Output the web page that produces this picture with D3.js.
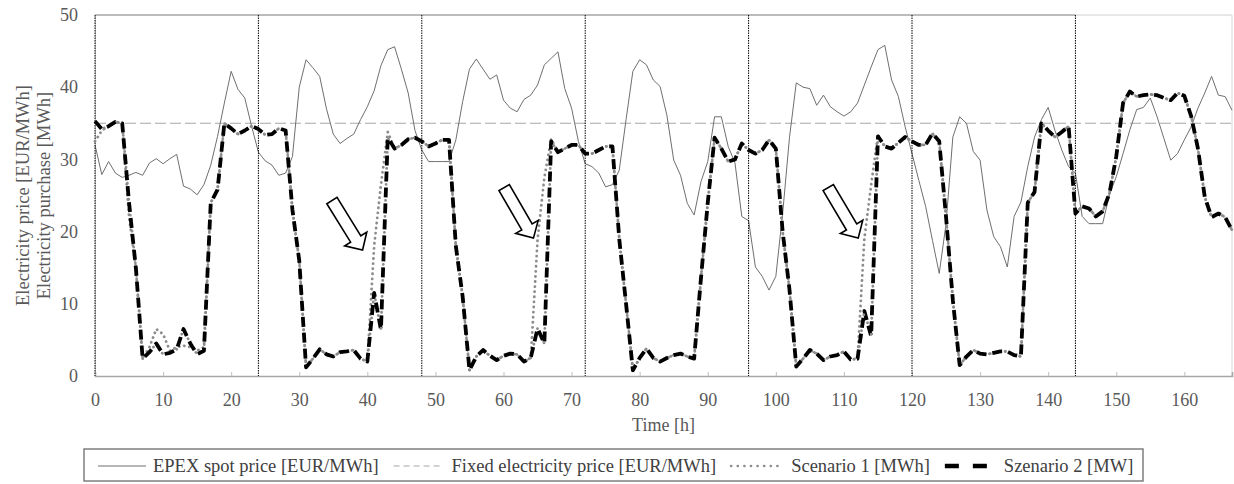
<!DOCTYPE html>
<html><head><meta charset="utf-8">
<script src="https://cdn.jsdelivr.net/npm/d3@7"></script>
<style>
body{margin:0;background:#fff}
svg{display:block}
text{font-family:"Liberation Serif","Times New Roman",serif}
</style>
</head><body>
<svg id="chart" width="1234" height="484"></svg>
<script>
// ---------- data ----------
const hours = d3.range(168);
const epexPrice = [
 32.0,27.9,29.7,28.1,27.5,27.8,28.2,27.8,29.5,30.1,29.4,30.1,30.7,26.3,25.9,25.1,26.5,29.2,33.2,37.8,42.2,39.7,38.5,34.6,
 31.0,29.8,29.2,27.8,28.1,30.4,40.0,43.8,42.7,41.5,37.0,33.5,32.2,32.9,33.5,35.5,37.3,39.5,43.0,45.2,45.6,42.5,39.2,34.0,
 31.3,29.7,29.7,29.7,29.7,32.7,38.0,42.5,43.9,42.5,41.1,41.7,38.2,37.1,36.6,38.3,38.9,40.3,43.1,44.0,44.9,39.8,37.1,32.5,
 29.4,29.0,28.1,26.2,26.5,28.5,35.5,42.2,43.8,43.1,41.0,40.1,36.1,29.9,27.8,23.9,22.3,26.9,29.7,35.9,35.9,31.8,29.5,22.1,
 21.5,15.1,13.8,11.9,13.8,22.5,33.0,40.6,40.0,39.8,37.5,38.9,37.3,36.6,36.0,36.6,37.8,40.3,42.8,45.2,45.8,41.0,38.7,34.5,
 30.8,27.1,23.5,18.8,14.2,21.1,33.1,35.9,35.0,31.1,29.9,23.0,19.3,17.9,15.1,22.1,24.1,29.0,33.1,35.5,37.2,34.0,31.3,29.0,
 28.1,22.1,21.1,21.1,21.1,25.1,27.6,30.8,34.1,36.9,37.2,38.5,35.9,32.9,29.9,30.8,32.7,34.5,37.1,39.2,41.5,38.9,38.7,36.8
];
const fixedPrice = 35;
const scenario1 = [
 32.5,34.0,34.6,35.2,35.0,22.0,15.0,2.4,4.0,6.5,5.8,3.5,4.0,4.2,4.0,3.5,4.0,24.0,25.8,35.0,34.3,33.5,34.0,34.6,
 34.2,33.4,33.5,34.3,34.0,23.0,16.0,1.2,2.4,3.7,3.0,2.7,3.3,3.4,3.6,2.4,2.0,18.0,26.5,33.8,31.5,32.0,32.8,33.0,
 32.5,31.8,32.2,32.7,32.7,18.0,11.0,0.8,2.7,3.6,2.8,2.2,2.8,3.1,3.0,2.0,2.4,18.8,27.5,32.8,31.0,31.5,32.0,32.0,
 30.8,30.8,31.3,31.8,31.8,19.0,10.0,0.8,2.5,3.8,2.5,2.0,2.5,2.9,3.1,2.7,2.4,13.5,24.0,33.0,31.5,29.7,30.0,32.2,
 31.3,30.8,31.3,32.7,31.5,20.0,12.0,1.3,2.4,3.6,3.1,2.2,2.7,2.9,3.4,2.3,2.4,19.0,26.5,33.4,31.8,31.5,32.3,33.1,
 32.5,32.0,32.0,33.6,32.5,22.0,10.5,1.5,2.7,3.6,3.1,3.0,3.2,3.4,3.4,2.9,2.7,24.0,25.5,35.0,34.0,33.1,33.8,34.6,
 22.5,23.5,23.2,22.1,22.8,25.3,30.4,37.8,39.4,38.7,38.9,39.0,38.9,38.5,38.2,39.2,38.8,36.0,31.5,24.8,22.0,22.5,22.0,20.2
];
const scenario2 = [
 35.3,34.2,34.6,35.2,35.0,24.0,15.0,2.4,3.3,4.5,3.0,3.2,3.7,6.5,4.5,3.0,3.5,24.0,25.8,35.0,34.3,33.5,34.0,34.6,
 34.2,33.4,33.5,34.3,34.0,23.0,16.0,1.2,2.4,3.7,3.0,2.7,3.3,3.4,3.6,2.4,2.0,11.5,6.4,33.0,31.5,32.0,32.8,33.0,
 32.5,31.8,32.2,32.7,32.7,18.0,11.0,0.8,2.7,3.6,2.8,2.2,2.8,3.1,3.0,2.0,2.5,6.6,4.5,32.5,31.0,31.5,32.0,32.0,
 30.8,30.8,31.3,31.8,31.8,19.0,10.0,0.8,2.5,3.8,2.5,2.0,2.5,2.9,3.1,2.7,2.4,13.5,24.0,33.0,31.5,29.7,30.0,32.2,
 31.3,30.8,31.3,32.7,31.5,20.0,12.0,1.3,2.4,3.6,3.1,2.2,2.7,2.9,3.4,2.3,2.4,9.0,5.5,33.2,31.8,31.5,32.3,33.1,
 32.5,32.0,32.0,33.6,32.5,22.0,10.5,1.5,2.7,3.6,3.1,3.0,3.2,3.4,3.4,2.9,2.7,24.0,25.5,35.0,34.0,33.1,33.8,34.6,
 22.5,23.5,23.2,22.1,22.8,25.3,30.4,37.8,39.4,38.7,38.9,39.0,38.9,38.5,38.2,39.2,38.8,36.0,31.5,24.8,22.0,22.5,22.0,20.2
];
const dayBoundaries = [0,24,48,72,96,120,144];
const xTicks = d3.range(0,161,10);
const yTicks = [0,10,20,30,40,50];
const xDomain = [0,167];
const yDomain = [0,50];
// annotation arrows: [hour, value] of tail and tip
const arrowTails = [[34.8,24.3],[60.1,26.1],[107.7,26.1]];
const arrowTips  = [[39.3,17.45],[64.4,19.1],[112.1,19.1]];
const yTitleLines = ["Electricity price [EUR/MWh]","Electricity purchase [MWh]"];
const xTitle = "Time [h]";
const legendLabels = ["EPEX spot price [EUR/MWh]","Fixed electricity price [EUR/MWh]","Scenario 1 [MWh]","Szenario 2 [MW]"];

// ---------- drawing ----------
const svg = d3.select("#chart");
const L = 95, R = 1232, T = 15, B = 376;
const x = d3.scaleLinear().domain(xDomain).range([L, R]);
const y = d3.scaleLinear().domain(yDomain).range([B, T]);
const lastDay = dayBoundaries[dayBoundaries.length-1];

// frame (top + right)
svg.append("line").attr("x1",x(0)).attr("x2",x(lastDay)).attr("y1",T).attr("y2",T)
  .attr("stroke","#a6a6a6").attr("stroke-width",1.6);
svg.append("line").attr("x1",x(lastDay)).attr("x2",R).attr("y1",T).attr("y2",T)
  .attr("stroke","#d0d0d0").attr("stroke-width",1);
svg.append("line").attr("x1",R).attr("x2",R).attr("y1",T).attr("y2",B)
  .attr("stroke","#d9d9d9").attr("stroke-width",1);

// x axis
const xAxis = svg.append("g").attr("transform",`translate(0,${B})`)
  .call(d3.axisBottom(x).tickValues(xTicks).tickSize(-4).tickPadding(17).tickFormat(d3.format("d")));
xAxis.select(".domain").attr("stroke","#a6a6a6").attr("stroke-width",1.6);
xAxis.selectAll(".tick line").attr("stroke","#bfbfbf");
xAxis.selectAll("text").attr("font-size",18).attr("fill","#595959")
  .attr("font-family","Liberation Serif, Times New Roman, serif");

// y axis
const yAxis = svg.append("g").attr("transform",`translate(${L},0)`)
  .call(d3.axisLeft(y).tickValues(yTicks).tickSize(0).tickPadding(17));
yAxis.select(".domain").attr("stroke","#bfbfbf");
yAxis.selectAll("text").attr("font-size",18).attr("fill","#595959")
  .attr("font-family","Liberation Serif, Times New Roman, serif");

// titles
svg.append("text").attr("x",(L+R)/2).attr("y",431).attr("text-anchor","middle")
  .attr("font-size",18).attr("fill","#595959").text(xTitle);
const yc = (T+B)/2;
yTitleLines.forEach((t,i)=>{
  const bx = 29 + i*21;
  svg.append("text").attr("transform",`translate(${bx},${yc}) rotate(-90)`)
    .attr("text-anchor","middle").attr("font-size",18.5).attr("fill","#595959").text(t);
});

// fixed price
svg.append("line").attr("x1",x(xDomain[0])).attr("x2",x(xDomain[1]))
  .attr("y1",y(fixedPrice)).attr("y2",y(fixedPrice))
  .attr("stroke","#a6a6a6").attr("stroke-width",1.1).attr("stroke-dasharray","11,4");

const line = d3.line().x((d,i)=>x(hours[i])).y(d=>y(d));

// EPEX
svg.append("path").datum(epexPrice).attr("d",line)
  .attr("fill","none").attr("stroke","#6f6f6f").attr("stroke-width",1);

// day boundaries
svg.selectAll(".day").data(dayBoundaries).enter().append("line")
  .attr("x1",d=>x(d)).attr("x2",d=>x(d)).attr("y1",T).attr("y2",B)
  .attr("stroke","#000").attr("stroke-width",1).attr("stroke-dasharray","1.5,1");

// scenario 1 (gray dots)
svg.append("path").datum(scenario1).attr("d",line)
  .attr("fill","none").attr("stroke","#8c8c8c").attr("stroke-width",2.8)
  .attr("stroke-linecap","round").attr("stroke-dasharray","0.1,5");
// scenario 2 (black dashes; scenario-1 dots show through the gaps)
svg.append("path").datum(scenario2).attr("d",line)
  .attr("fill","none").attr("stroke","#000").attr("stroke-width",3.8)
  .attr("stroke-linejoin","round").attr("stroke-dasharray","10,6");
svg.append("path").datum(scenario2).attr("d",line)
  .attr("fill","none").attr("stroke","#8c8c8c").attr("stroke-width",2.8)
  .attr("stroke-linecap","round").attr("stroke-dasharray","0.1,15.9").attr("stroke-dashoffset",-13);

// arrows
arrowTails.forEach((tl,i)=>{
  const tp = arrowTips[i];
  const tx = x(tl[0]), ty = y(tl[1]), px = x(tp[0]), py = y(tp[1]);
  const len = Math.hypot(px-tx, py-ty);
  const ux = (px-tx)/len, uy = (py-ty)/len, nx = -uy, ny = ux;
  const sw = 6, hw = 13, hl = 13;
  const bx = px-ux*hl, by = py-uy*hl;
  const pts = [[tx+nx*sw,ty+ny*sw],[bx+nx*sw,by+ny*sw],[bx+nx*hw,by+ny*hw],[px,py],
               [bx-nx*hw,by-ny*hw],[bx-nx*sw,by-ny*sw],[tx-nx*sw,ty-ny*sw]];
  svg.append("polygon").attr("points",pts.map(p=>p.join(",")).join(" "))
    .attr("fill","#fff").attr("stroke","#000").attr("stroke-width",1.6).attr("stroke-linejoin","miter");
});

// legend
const lg = svg.append("g");
lg.append("rect").attr("x",84).attr("y",449).attr("width",1059).attr("height",32)
  .attr("fill","#fff").attr("stroke","#7f7f7f").attr("stroke-width",1.5);
const styles = [
  {stroke:"#6f6f6f",w:1,dash:null,cap:"butt",len:48,gap:7},
  {stroke:"#a6a6a6",w:1.1,dash:"6,4",cap:"butt",len:50,gap:8},
  {stroke:"#8c8c8c",w:2.6,dash:"0.1,6.5",cap:"round",len:52,gap:8},
  {stroke:"#000",w:4.5,dash:"14,14",cap:"butt",len:42,gap:17}
];
let cx = 98;
const ly = 466;
legendLabels.forEach((lab,i)=>{
  const s = styles[i];
  lg.append("line").attr("x1",cx).attr("x2",cx+s.len).attr("y1",ly).attr("y2",ly)
    .attr("stroke",s.stroke).attr("stroke-width",s.w).attr("stroke-dasharray",s.dash)
    .attr("stroke-linecap",s.cap);
  cx += s.len + s.gap;
  const t = lg.append("text").attr("x",cx).attr("y",ly+6).attr("font-size",18.5)
    .attr("fill","#404040").text(lab);
  cx += t.node().getComputedTextLength() + 15;
});
</script>
</body></html>
